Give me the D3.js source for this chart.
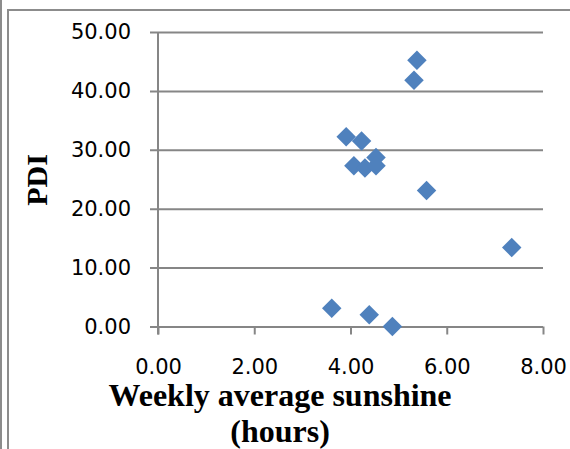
<!DOCTYPE html>
<html>
<head>
<meta charset="utf-8">
<script src="https://cdn.jsdelivr.net/npm/d3@7"></script>
<style>
  body { margin: 0; background: #fff; }
  svg { display: block; }
</style>
</head>
<body>
<script>
// sunshine (hours) vs PDI
var sunshine = [5.38, 5.32, 3.91, 4.23, 4.53, 4.07, 4.30, 4.53, 5.58, 7.35, 3.61, 4.39, 4.87]
var pdi = [45.2, 41.8, 32.2, 31.5, 28.7, 27.3, 26.9, 27.3, 23.1, 13.4, 3.1, 2.0, 0.0]
var xTicks = [0, 2, 4, 6, 8]
var yTicks = [0, 10, 20, 30, 40, 50]

var width = 570
var height = 449
var margin = { top: 32, right: 27, bottom: 122.5, left: 158 }
var plotW = width - margin.left - margin.right
var plotH = height - margin.top - margin.bottom

var svg = d3.select('body').append('svg')
  .attr('width', width)
  .attr('height', height)

// frame lines
svg.append('line').attr('x1', 1).attr('x2', 1).attr('y1', 0).attr('y2', height)
  .attr('stroke', '#8c8c8c').attr('stroke-width', 2)
svg.append('line').attr('x1', 8).attr('x2', 8).attr('y1', 9).attr('y2', height)
  .attr('stroke', '#8c8c8c').attr('stroke-width', 2)
svg.append('line').attr('x1', 7).attr('x2', width).attr('y1', 10).attr('y2', 10)
  .attr('stroke', '#8c8c8c').attr('stroke-width', 2)

var g = svg.append('g')
  .attr('transform', 'translate(' + margin.left + ',' + margin.top + ')')

var x = d3.scaleLinear().domain([0, 8]).range([0, plotW])
var y = d3.scaleLinear().domain([0, 50]).range([plotH, 0])

// horizontal gridlines, starting 8px left of the axis
var yAxis = d3.axisLeft(y).tickValues(yTicks).tickSize(-(plotW + 8)).tickPadding(19)
  .tickFormat(d3.format('.2f'))
var yg = g.append('g').attr('transform', 'translate(-8,0)')
yg.call(yAxis)
yg.select('.domain').remove()
yg.selectAll('.tick line').attr('stroke', '#868686').attr('stroke-width', 2)

// y axis line
g.append('line').attr('x1', 0).attr('x2', 0).attr('y1', 0).attr('y2', plotH + 8)
  .attr('stroke', '#868686').attr('stroke-width', 2)

var xAxis = d3.axisBottom(x).tickValues(xTicks).tickSize(8).tickPadding(25)
  .tickFormat(d3.format('.2f'))
var xg = g.append('g').attr('transform', 'translate(0,' + plotH + ')')
xg.call(xAxis)
xg.select('.domain').remove()
xg.selectAll('.tick line').attr('stroke', '#868686').attr('stroke-width', 2)

svg.selectAll('.tick text')
  .attr('fill', '#000')
  .style('font-family', '"DejaVu Sans", Verdana, sans-serif')
  .style('font-size', '21px')

// points
var diamond = d3.symbol().type(d3.symbolSquare).size(190)
g.selectAll('.dot')
  .data(sunshine.map(function (d, i) { return { x: d, y: pdi[i] } }))
  .enter().append('path')
  .attr('class', 'dot')
  .attr('d', diamond)
  .attr('transform', function (d) { return 'translate(' + x(d.x) + ',' + y(d.y) + ') rotate(45)' })
  .attr('fill', '#4f81bd')

// axis titles
svg.append('text')
  .attr('transform', 'translate(47,180) rotate(-90)')
  .attr('text-anchor', 'middle')
  .style('font-family', '"Liberation Serif", "Times New Roman", serif')
  .style('font-weight', 'bold')
  .style('font-size', '30px')
  .text('PDI')

var xt = svg.append('text')
  .attr('text-anchor', 'middle')
  .style('font-family', '"Liberation Serif", "Times New Roman", serif')
  .style('font-weight', 'bold')
  .style('font-size', '32px')
xt.append('tspan').attr('x', 280).attr('y', 406).text('Weekly average sunshine')
xt.append('tspan').attr('x', 280).attr('y', 442).text('(hours)')
</script>
</body>
</html>
